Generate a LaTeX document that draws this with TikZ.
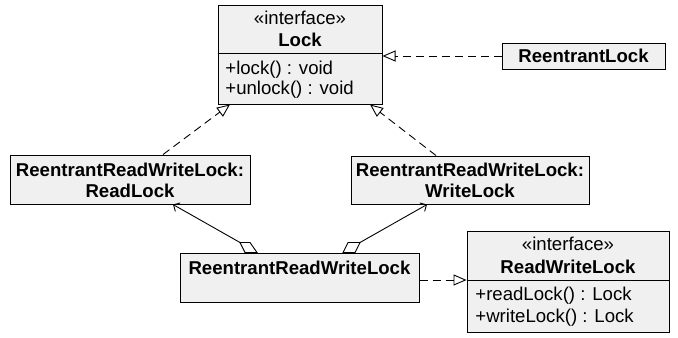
\documentclass[tikz,border=0pt]{standalone}
\usepackage{fontspec}
\setmainfont{Liberation Sans}
\usetikzlibrary{calc}
\usetikzlibrary{arrows.meta}
\definecolor{boxfill}{HTML}{F0F0F0}

\begin{document}
\begin{tikzpicture}[x=0.5pt, y=-0.5pt, > = Straight Barb,
  font=\fontsize{9.3}{11}\selectfont,
  box/.style={draw, fill=boxfill, line width=0.5pt, inner sep=0pt},
  real/.style={-{Triangle[open, length=6.5pt, width=5.5pt]}, dash pattern=on 4pt off 2.5pt, line width=0.45pt},
  agg/.style={draw, fill=white, line width=0.45pt},
  assoc/.style={->, line width=0.45pt},
  bname/.style={anchor=base, font=\fontsize{9.3}{11}\selectfont\bfseries}]
\useasboundingbox (0,0) rectangle (678,337);
% boxes
\node[box, minimum width=82pt, minimum height=49.5pt] (lock) at (300,54.5) {};
\draw ($(lock.west)+(0,-1.5)$) -- ($(lock.east)+(0,-1.5)$);
\node[box, minimum width=81.5pt, minimum height=13pt] (rlock) at (583.5,56) {};
\node[box, minimum width=120pt, minimum height=24.5pt] (readlock) at (130,179.5) {};
\node[box, minimum width=119pt, minimum height=24pt] (writelock) at (470,180) {};
\node[box, minimum width=119.5pt, minimum height=24.5pt] (rrwl) at (299.5,277.5) {};
\node[box, minimum width=101pt, minimum height=50.5pt] (rwlock) at (568,281.5) {};
\draw ($(rwlock.west)+(0,-1.5)$) -- ($(rwlock.east)+(0,-1.5)$);
% texts
\node[anchor=base] (lockst) at (300,25) {«interface»};
\node[bname] (lockname) at (300,46) {Lock};
\node[anchor=base west, inner sep=0pt] (lockm1) at (225,74) {+lock() : void};
\node[anchor=base west, inner sep=0pt] (lockm2) at (225,94) {+unlock() : void};
\node[bname] (rlockname) at (583.5,62) {ReentrantLock};
\node[bname] (readname1) at (130,176) {ReentrantReadWriteLock:};
\node[bname] (readname2) at (130,197) {ReadLock};
\node[bname] (writename1) at (470,176) {ReentrantReadWriteLock:};
\node[bname] (writename2) at (470,197) {WriteLock};
\node[bname] (rrwlname) at (299.5,274) {ReentrantReadWriteLock};
\node[anchor=base] (rwlockst) at (568,250) {«interface»};
\node[bname] (rwlockname) at (568,273) {ReadWriteLock};
\node[anchor=base west, inner sep=0pt] (rwlockm1) at (475,300) {+readLock() : Lock};
\node[anchor=base west, inner sep=0pt] (rwlockm2) at (475,322) {+writeLock() : Lock};
% realizations
\draw[real] (rlock.west) -- (lock.east |- rlock.west);
\draw[real] ($(readlock.north)+(33,0)$) -- ($(lock.south)+(-70,0)$);
\draw[real] ($(writelock.north)+(-34,0)$) -- ($(lock.south)+(70,0)$);
\draw[real] ($(rrwl.east)+(0,2.5)$) -- ($(rwlock.west)+(0,-1.5)$);
% aggregations
\draw[agg] ($(rrwl.north)+(-54.5,0)$) -- ++(-5,-10) coordinate (aggl) -- ++(10,0) -- ++(7,10) -- cycle;
\draw[agg] ($(rrwl.north)+(43.5,0)$) -- ++(5,-10) -- ++(12,0) coordinate (aggr) -- ++(-5,10) -- cycle;
\draw[assoc] (aggl) -- ($(readlock.south)+(43,0)$);
\draw[assoc] (aggr) -- ($(writelock.south)+(-43,0)$);
\end{tikzpicture}
\end{document}
